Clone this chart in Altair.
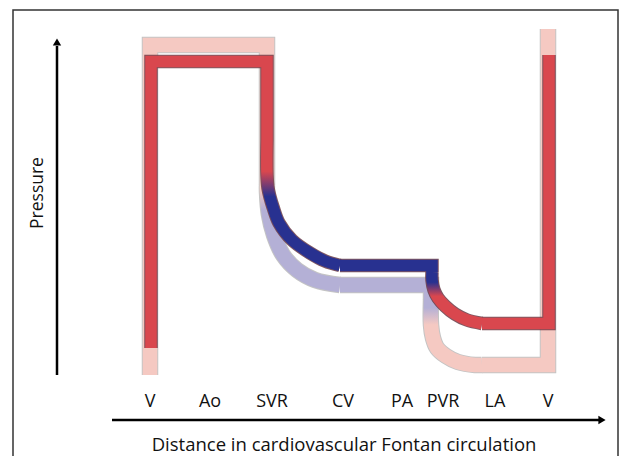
import altair as alt
import pandas as pd

# ---- schematic path values (distance, pressure) ----
# main (Fontan) pressure curve, split into colour pieces
main_a_d = [151, 151, 267, 267]
main_a_p = [116, 402.5, 402.5, 324]
main_b_d = [267, 267, 268, 270, 273, 279, 292, 310, 325, 340]
main_b_p = [324, 289, 276, 267, 257, 241, 224, 211, 203, 198.5]
main_c_d = [340, 432, 432]
main_c_p = [198.5, 198.5, 192]
main_d_d = [432, 432, 434, 438, 445, 455, 467, 482]
main_d_p = [192, 184, 174, 166, 158, 150, 144, 140.5]
main_e_d = [482, 549, 549]
main_e_p = [140.5, 140.5, 409]

# pale (normal biventricular) reference curve
sh_a_d = [150, 150, 267, 267]
sh_a_p = [89, 419, 419, 279]
sh_b_d = [267, 267, 269, 274, 283, 297, 315, 340]
sh_b_p = [279, 272, 249, 229, 209, 194, 184, 179]
sh_c_d = [340, 431, 431]
sh_c_p = [179, 179, 164]
sh_d_d = [431, 431, 433, 437, 446, 458, 475, 482]
sh_d_p = [164, 139, 126, 116, 108, 102, 99, 99]
sh_e_d = [482, 548, 548]
sh_e_p = [99, 99, 435]

# axis labels along the circulation
site_labels = ["V", "Ao", "SVR", "CV", "PA", "PVR", "LA", "V"]
site_d = [150, 210, 272, 343, 402, 443, 495, 548]
site_p = [62, 62, 62, 62, 62, 62, 62, 62]

# arrows
yarrow_d = [57, 57]
yarrow_p = [89, 418]
xarrow_d = [112, 599]
xarrow_p = [44, 44]
head_d = [57, 602]
head_p = [422, 44]
head_shape = ["triangle-up", "triangle-right"]

# frame
frame_d = [13, 13, 618, 618]
frame_p = [8, 454, 454, 8]

RED = "#d9474e"
BLUE = "#283190"
PINK = "#f5c9c2"
LAV = "#b4b0d6"

X = alt.Scale(domain=[8, 619])
Y = alt.Scale(domain=[8, 456])


def path_df(ds, ps):
    return pd.DataFrame({"d": ds, "p": ps, "o": list(range(len(ds)))})


def line(ds, ps, stroke, width, opacity=1.0, interp="linear"):
    return alt.Chart(path_df(ds, ps)).mark_line(
        stroke=stroke, strokeWidth=width, strokeCap="butt",
        strokeJoin="miter", opacity=opacity, clip=False, interpolate=interp
    ).encode(
        x=alt.X("d:Q", scale=X, axis=None),
        y=alt.Y("p:Q", scale=Y, axis=None),
        order="o:Q",
    )


def grad(c1, o1, c2, o2):
    return alt.Gradient(
        gradient="linear", x1=0, x2=0, y1=0, y2=1,
        stops=[alt.GradientStop(offset=0, color=c1),
               alt.GradientStop(offset=o1, color=c1),
               alt.GradientStop(offset=o2, color=c2),
               alt.GradientStop(offset=1, color=c2)],
    )


CR = "catmull-rom"
main_pieces = [(main_a_d, main_a_p, "linear"), (main_b_d, main_b_p, CR),
               (main_c_d, main_c_p, "linear"), (main_d_d, main_d_p, CR),
               (main_e_d, main_e_p, "linear")]
sh_pieces = [(sh_a_d, sh_a_p, "linear"), (sh_b_d, sh_b_p, CR),
             (sh_c_d, sh_c_p, "linear"), (sh_d_d, sh_d_p, CR),
             (sh_e_d, sh_e_p, "linear")]

main_strokes = [RED, grad(RED, 0.25, BLUE, 0.45), BLUE, grad(BLUE, 0.2, RED, 0.47), RED]
sh_strokes = [PINK, grad(PINK, 0.05, LAV, 0.25), LAV, grad(LAV, 0.12, PINK, 0.38), PINK]

layers = []
# frame
layers.append(line(frame_d, frame_p, "#333333", 1.5))
# shadow outline + fill
for (ds, ps, it) in sh_pieces:
    layers.append(line(ds, ps, "#c4c4c4", 16.5, interp=it))
for (ds, ps, it), s in zip(sh_pieces, sh_strokes):
    layers.append(line(ds, ps, s, 14.5, interp=it))
# main outline + fill
for (ds, ps, it) in main_pieces:
    layers.append(line(ds, ps, "#6a3a45", 13.5, 0.85, interp=it))
for (ds, ps, it), s in zip(main_pieces, main_strokes):
    layers.append(line(ds, ps, s, 11.5, interp=it))

# arrows
layers.append(line(yarrow_d, yarrow_p, "black", 2.5))
layers.append(line(xarrow_d, xarrow_p, "black", 2.5))
heads = pd.DataFrame({"d": head_d, "p": head_p, "s": head_shape})
layers.append(
    alt.Chart(heads).mark_point(filled=True, color="black", size=70, opacity=1).encode(
        x=alt.X("d:Q", scale=X, axis=None),
        y=alt.Y("p:Q", scale=Y, axis=None),
        shape=alt.Shape("s:N", scale=alt.Scale(domain=head_shape, range=head_shape), legend=None),
    )
)

# site labels
sites = pd.DataFrame({"d": site_d, "p": site_p, "t": site_labels})
layers.append(
    alt.Chart(sites).mark_text(font="Open Sans", fontSize=18, color="#111111",
                               baseline="middle", align="center").encode(
        x=alt.X("d:Q", scale=X, axis=None),
        y=alt.Y("p:Q", scale=Y, axis=None),
        text="t:N",
    )
)

titles = pd.DataFrame({
    "d": [344, 38],
    "p": [19, 271],
    "t": ["Distance in cardiovascular Fontan circulation", "Pressure"],
    "a": [0, 270],
    "fs": [18.5, 17.5],
})
layers.append(
    alt.Chart(titles).mark_text(font="Open Sans", color="#111111",
                                baseline="middle", align="center").encode(
        x=alt.X("d:Q", scale=X, axis=None),
        y=alt.Y("p:Q", scale=Y, axis=None),
        text="t:N",
        angle=alt.Angle("a:Q", scale=None),
        size=alt.Size("fs:Q", scale=None),
    )
)

chart = alt.layer(*layers).properties(
    width=611, height=448, padding=0, autosize=alt.AutoSizeParams(type="none"),
    background="white",
).configure_view(stroke=None)

chart.save("out.html", embed_options={"renderer": "svg", "actions": False})
